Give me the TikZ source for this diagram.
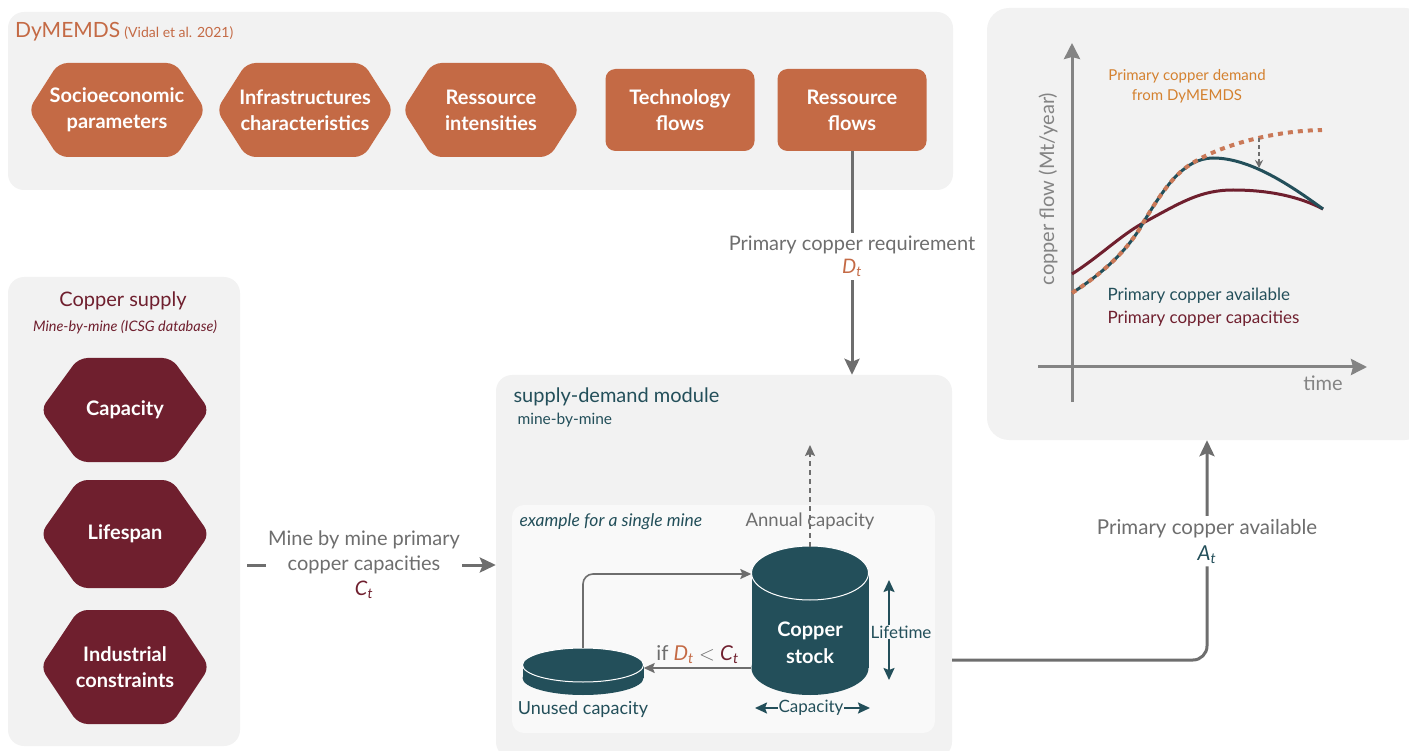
\documentclass[tikz,border=0pt]{standalone}
\usepackage{fontspec}
\setmainfont{Lato}
\usetikzlibrary{arrows.meta}
\definecolor{cpanel}{HTML}{F2F2F2}
\definecolor{cinner}{HTML}{F9F9F9}
\definecolor{corng}{HTML}{C46A45}
\definecolor{cmaroon}{HTML}{6F1F2E}
\definecolor{cteal}{HTML}{234F5A}
\definecolor{cgray}{HTML}{6E6E6E}
\definecolor{cdem}{HTML}{D4812F}
\newcommand\myvar[3]{\textcolor{#1}{\textit{#2}\textsubscript{\textit{#3}}}}
\newcommand\hexa[8]{%
  \fill[#7, rounded corners=9pt] (#2-#4,#3) -- (#2-#4+#6,#3-#5) -- (#2+#4-#6,#3-#5) -- (#2+#4,#3) -- (#2+#4-#6,#3+#5) -- (#2-#4+#6,#3+#5) -- cycle;
  \node[hextext] (#1) at (#2,#3) {#8};}
\begin{document}
\begin{tikzpicture}[x=1pt,y=-1pt,
  panel/.style={fill=cpanel, rounded corners=16pt, inner sep=0pt},
  hextext/.style={text=white, align=center, font=\fontsize{20}{26}\selectfont\bfseries},
  boxnode/.style={fill=corng, rounded corners=10pt, text=white, align=center, minimum width=149pt, minimum height=82pt, font=\fontsize{20}{26}\selectfont\bfseries},
  garrow/.style={draw=cgray, line width=3pt, -{Stealth[length=16pt,width=15pt,inset=3pt]}},
  sarrow/.style={draw=cgray, line width=1.6pt, -{Stealth[length=11pt,width=10pt,inset=2pt]}},
  tarrow/.style={draw=cteal, line width=2pt, {Stealth[length=12pt,width=11pt,inset=2pt]}-{Stealth[length=12pt,width=11pt,inset=2pt]}},
  glabel/.style={text=cgray, align=center, font=\fontsize{20}{25}\selectfont, fill=white, inner sep=3pt},
]
\useasboundingbox (0,0) rectangle (1409,751);
% panels
\node[panel, minimum width=945pt, minimum height=178pt] (dym) at (480.5,101) {};
\node[panel, minimum width=440pt, minimum height=432pt, rounded corners=22pt] (graph) at (1207,224) {};
\node[panel, minimum width=232pt, minimum height=469pt] (supply) at (124,511.5) {};
\node[panel, minimum width=456pt, minimum height=383pt] (module) at (724,566.5) {};
\node[fill=cinner, rounded corners=12pt, minimum width=423pt, minimum height=228pt, inner sep=0pt] (inner) at (723.5,619) {};

% DyMEMDS panel
\node[anchor=west, text=corng, inner sep=0pt] (dymtitle) at (15,32) {{\fontsize{21}{24}\selectfont DyMEMDS}\ \,{\fontsize{14}{16}\selectfont (Vidal et al. 2021)}};
\hexa{socio}{117}{110}{88.5}{47}{30}{corng}{Socioeconomic\\parameters}
\hexa{infra}{305}{110}{88.5}{47}{30}{corng}{Infrastructures\\characteristics}
\hexa{inten}{491}{110}{88.5}{47}{30}{corng}{Ressource\\intensities}
\node[boxnode] (techflows) at (680,110) {Technology\\flows};
\node[boxnode] (resflows) at (852,110) {Ressource\\flows};

% Copper supply panel
\node[text=cmaroon, font=\fontsize{20}{23}\selectfont] (suptitle) at (123,301) {Copper supply};
\node[text=cmaroon, font=\fontsize{14.5}{17}\selectfont\itshape] (supsub) at (125,327) {Mine-by-mine (ICSG database)};
\hexa{capac}{125}{410}{84.5}{52}{38}{cmaroon}{Capacity}
\hexa{lifesp}{125}{534}{84.5}{54}{38}{cmaroon}{Lifespan}
\hexa{indus}{125}{667}{84.5}{57}{38}{cmaroon}{Industrial\\constraints}

% module panel
\node[anchor=west, text=cteal, font=\fontsize{20}{23}\selectfont] (modtitle) at (510,397) {supply-demand module};
\node[anchor=west, text=cteal, font=\fontsize{15.5}{18}\selectfont] (modsub) at (514,420) {mine-by-mine};
\node[anchor=west, text=cteal, font=\fontsize{17.5}{20}\selectfont\itshape] (example) at (516,522) {example for a single mine};

% cylinder (copper stock)
\fill[cteal] (751.5,573) rectangle (868.5,668);
\fill[cteal] (810,668) ellipse [x radius=58.5pt, y radius=27pt];
\filldraw[fill=cteal, draw=white, line width=1pt] (810,573) ellipse [x radius=58.5pt, y radius=27pt];
\node[minimum width=117pt, minimum height=148pt, inner sep=0pt] (stock) at (810,621) {};
\node[text=white, align=center, font=\fontsize{20}{27}\selectfont\bfseries] (stocktext) at (810,643) {Copper\\stock};
% disk (unused capacity)
\fill[cteal] (522.5,665) rectangle (643.5,678);
\fill[cteal] (583,678) ellipse [x radius=60.5pt, y radius=17pt];
\filldraw[fill=cteal, draw=white, line width=1pt] (583,665) ellipse [x radius=60.5pt, y radius=17pt];
\node[minimum width=121pt, minimum height=47pt, inner sep=0pt] (disk) at (583,671.5) {};
\node[text=cteal, font=\fontsize{18}{21}\selectfont] (unused) at (583,709) {Unused capacity};

% inner arrows
\draw[sarrow, rounded corners=10pt] (disk.north) |- ([yshift=47pt]stock.west);
\draw[sarrow] ([yshift=-47pt]stock.west) coordinate (q) -- (q -| disk.east)
  node[midway, above=0pt, text=cgray, font=\fontsize{20.5}{22}\selectfont] {if \myvar{corng}{D}{t} $<$ \myvar{cmaroon}{C}{t}};
\node[text=cgray, font=\fontsize{18.5}{21}\selectfont] (annual) at (810,521) {Annual capacity};
\coordinate (annualtop) at (810,445);
\draw[draw=cgray, line width=1.5pt, dash pattern=on 5pt off 4pt, -{Stealth[length=11pt,width=10pt,inset=2pt]}] (stock.north) -- (annualtop);
\coordinate (lt1) at (889,580); \coordinate (lt2) at (889,680);
\draw[tarrow] (lt1) -- (lt2);
\node[fill=cinner, text=cteal, font=\fontsize{17}{19}\selectfont, inner sep=1pt] (lifetime) at (901,632) {Lifetime};
\coordinate (cp1) at (755,708); \coordinate (cp2) at (870,708);
\draw[tarrow] (cp1) -- (cp2);
\node[fill=cinner, text=cteal, font=\fontsize{17}{19}\selectfont, inner sep=1pt] (capt) at (811,708) {Capacity};

% main connectors
\draw[garrow] (resflows.south) -- (resflows.south |- module.north)
  node[pos=0.47, glabel, font=\fontsize{20}{23}\selectfont] {Primary copper requirement\\ \myvar{corng}{D}{t}};
\draw[garrow] ([xshift=7pt]supply.east |- 0,565) -- (module.west |- 0,565)
  node[pos=0.47, glabel, inner sep=2pt] {Mine by mine primary\\copper capacities\\ \myvar{cmaroon}{C}{t}};
\draw[garrow, rounded corners=14pt] (module.east |- 0,660) -| (graph.south)
  node[pos=0.77, glabel, font=\fontsize{20.5}{26}\selectfont] {Primary copper available\\ \myvar{cteal}{A}{t}};

% graph
\draw[draw=cgray!85, line width=3pt, -{Stealth[length=16pt,width=16pt,inset=2pt]}] (1072,402) -- (1072,43);
\draw[draw=cgray!85, line width=3pt, -{Stealth[length=16pt,width=16pt,inset=2pt]}] (1038,367) -- (1367,367);
\node[text=cgray!85, font=\fontsize{20}{23}\selectfont] (time) at (1323,383) {time};
\node[text=cgray!85, rotate=90, font=\fontsize{20}{23}\selectfont] (ylab) at (1048,189) {copper flow (Mt/year)};
\node[text=cdem, align=center, font=\fontsize{15}{20}\selectfont] (demlab) at (1187,86) {Primary copper demand\\from DyMEMDS};
\node[anchor=west, text=cteal, font=\fontsize{17}{20}\selectfont] (avlab) at (1104,296) {Primary copper available};
\node[anchor=west, text=cmaroon, font=\fontsize{17}{20}\selectfont] (caplab) at (1104,319) {Primary copper capacities};
\draw[cmaroon, line width=3pt] (1072,274) .. controls (1100,256) and (1120,236) .. (1143,223)
  .. controls (1180,203) and (1200,190) .. (1233,190) .. controls (1270,190) and (1300,197) .. (1323,209);
\draw[cteal, line width=3pt] (1072,293) .. controls (1100,275) and (1127,252) .. (1143,223)
  .. controls (1163,190) and (1183,158) .. (1213,158) .. controls (1250,158) and (1290,185) .. (1323,209);
\draw[corng!90, line width=4pt, dash pattern=on 5pt off 5pt] (1072,293) .. controls (1100,275) and (1127,252) .. (1143,223)
  .. controls (1155,203.2) and (1167,183.8) .. (1181.2,171.4) .. controls (1205,150) and (1265,131) .. (1322,130);
\draw[cgray, line width=1.2pt, dash pattern=on 4pt off 3pt, -{Stealth[length=8pt,width=8pt]}] (1259,138) -- (1259,168);
\end{tikzpicture}
\end{document}
